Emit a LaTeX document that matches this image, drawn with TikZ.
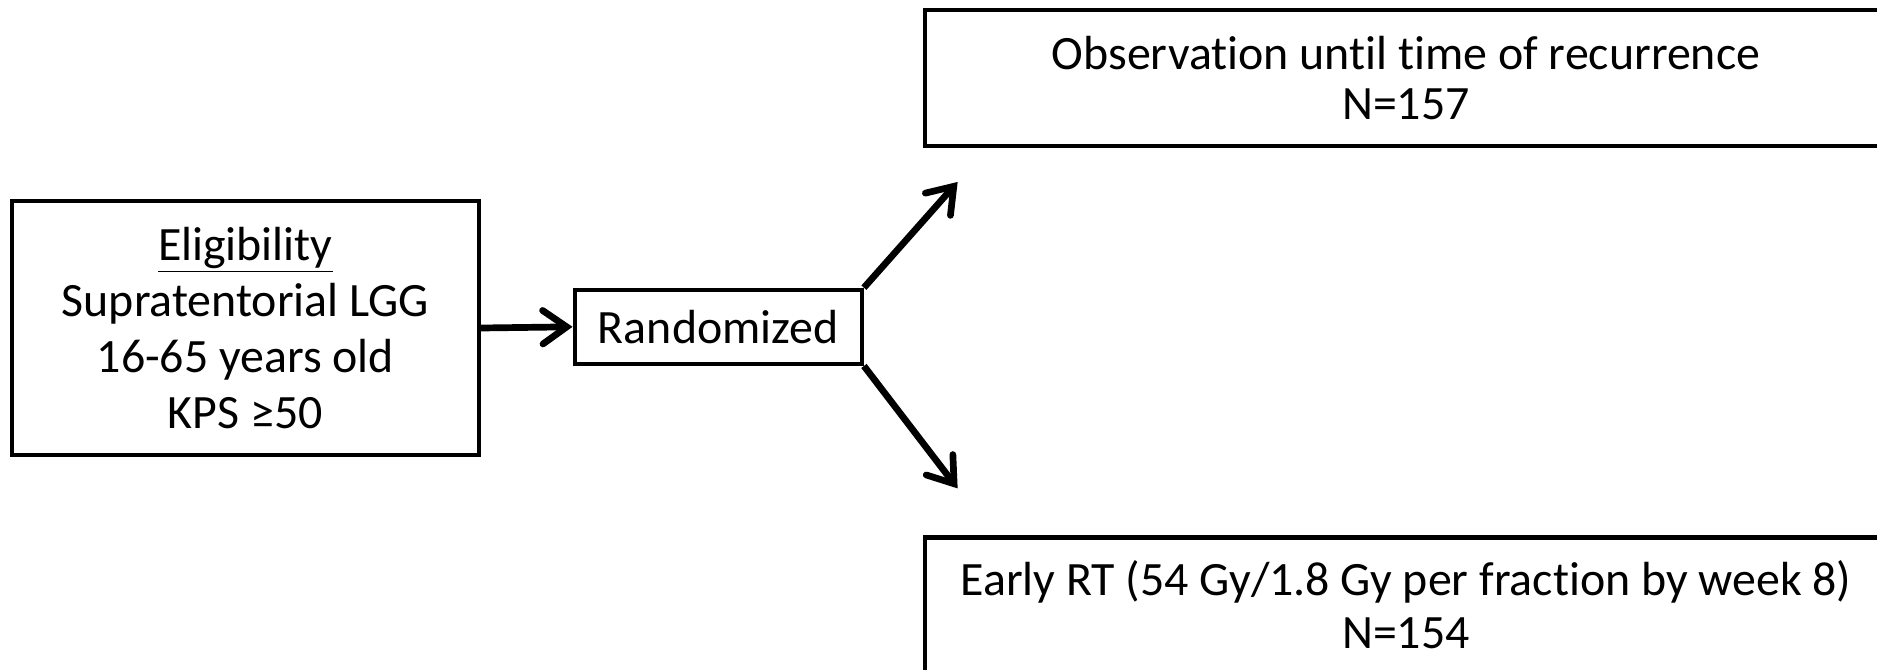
\documentclass[tikz,border=0pt]{standalone}
\usepackage{fontspec}
\setmainfont{Carlito}[Ligatures={NoCommon,NoRare,NoContextual}]
\usetikzlibrary{arrows.meta}
\begin{document}
\begin{tikzpicture}[x=0.5pt,y=-0.5pt,
  box/.style={draw,line width=1.7pt,inner sep=0pt,align=center,font=\fontsize{20}{21}\selectfont},
  arr/.style={line width=2.8pt,-{Straight Barb[length=10pt,width=14pt,line width=2.8pt,line cap=round]}}]
\useasboundingbox (0,0) rectangle (1568,559);
\node[box,minimum width=390*0.5pt,minimum height=212*0.5pt,font=\fontsize{20}{23.5}\selectfont] (elig) at (205,274)
  {\underline{Eligibility}\\Supratentorial LGG\\16-65 years old\\KPS ≥50};
\node[box,minimum width=240*0.5pt,minimum height=62*0.5pt] (rand) at (600,273) {Randomized};
\node[box,minimum width=803*0.5pt,minimum height=114*0.5pt] (obs) at (1174.5,65)
  {Observation until time of recurrence\\N=157};
\node[box,minimum width=803*0.5pt,minimum height=124*0.5pt,align=none,font=\fontsize{20}{22}\selectfont] (rt) at (1174.5,511)
  {\raisebox{3pt}{\begin{tabular}{@{}c@{}}Early RT (54 Gy/1.8 Gy per fraction by week 8)\\N=154\end{tabular}}};
\coordinate (up) at (800,152);
\coordinate (dn) at (800,408);
\draw[arr] (elig.east) -- (rand.west);
\draw[arr] (rand.north east) -- (up);
\draw[arr] (rand.south east) -- (dn);
\end{tikzpicture}
\end{document}
